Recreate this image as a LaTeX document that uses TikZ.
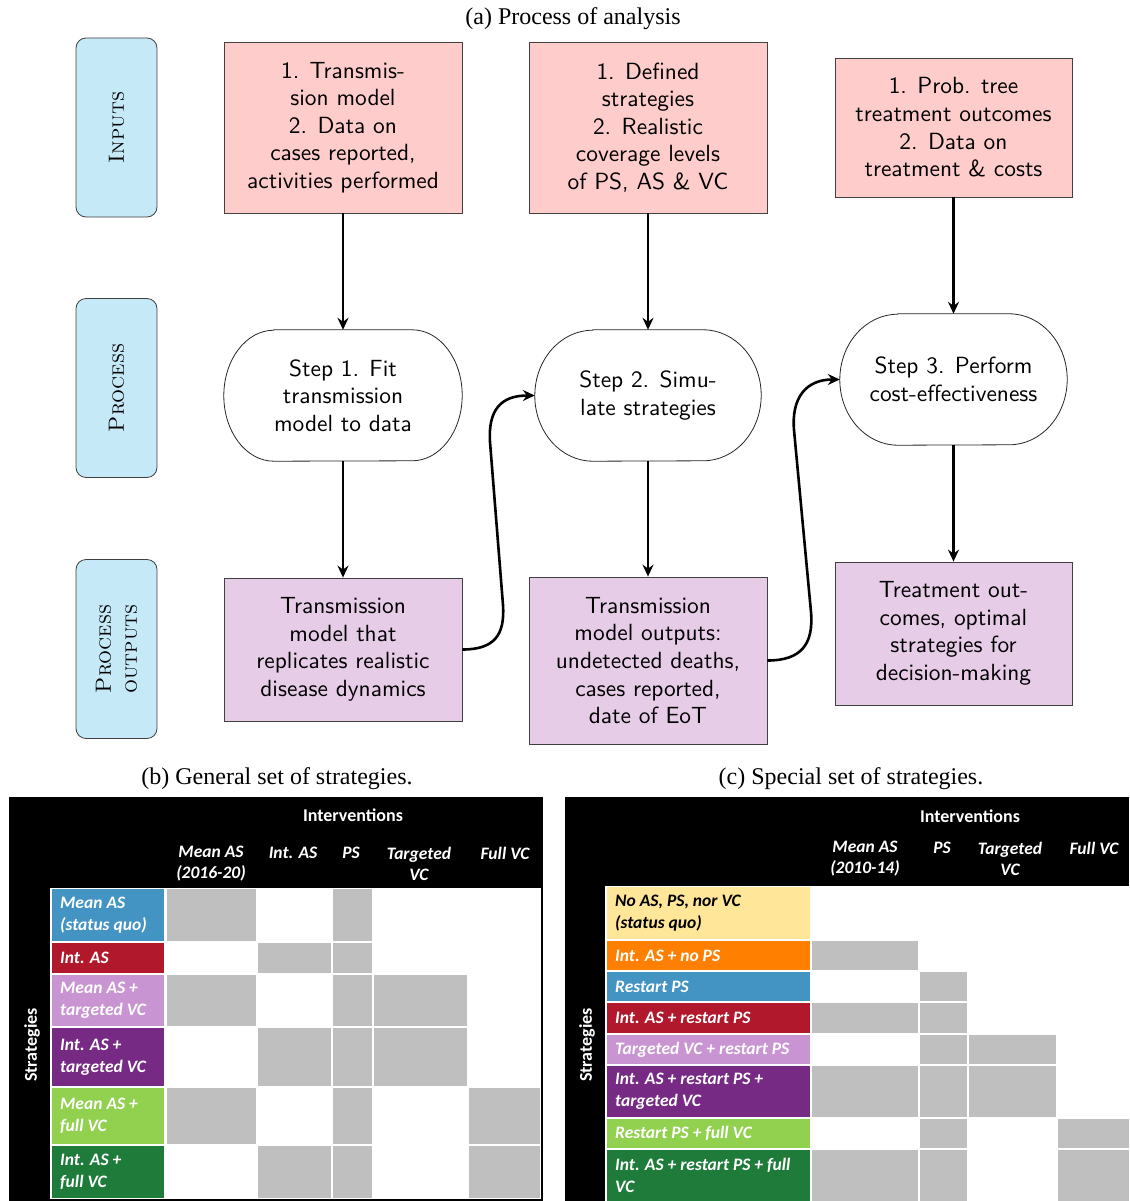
\documentclass[tikz,border=0pt]{standalone}
\usepackage{fontspec}
\newfontfamily\capfont{Liberation Serif}
\newfontfamily\tabfont{Carlito}
\newfontfamily\msf{lmsans10-regular.otf}
\usetikzlibrary{arrows.meta}
\definecolor{lblue}{HTML}{C6E9F8}
\definecolor{pinkbox}{HTML}{FFCCCC}
\definecolor{lilac}{HTML}{E6CCE6}
\definecolor{sblue}{HTML}{4393C3}
\definecolor{sred}{HTML}{B2182B}
\definecolor{slpurple}{HTML}{C994D2}
\definecolor{spurple}{HTML}{762A83}
\definecolor{slgreen}{HTML}{92D050}
\definecolor{sdgreen}{HTML}{1E7B3A}
\definecolor{syellow}{HTML}{FFE699}
\definecolor{sorange}{HTML}{FF7F00}
\definecolor{gcellc}{HTML}{BFBFBF}
\tikzset{
 mainfont/.style={font=\msf\fontsize{23.4}{27.6}\selectfont},
 inbox/.style={draw=black!75, line width=0.8pt, fill=pinkbox, align=center, inner sep=0pt, minimum width=238pt, mainfont},
 outbox/.style={inbox, fill=lilac},
 procnode/.style={rectangle, align=center, inner sep=0pt, minimum height=131pt, mainfont},
 stadium/.style={draw=black!85, line width=0.8pt, fill=white},
 lane/.style={draw=black!75, line width=0.8pt, fill=lblue, rounded corners=10pt, minimum width=81pt, minimum height=179pt, inner sep=0pt},
 lanetext/.style={rotate=90, font=\fontsize{22}{26}\selectfont\scshape, align=center, inner sep=0pt},
 arr/.style={-{Stealth[length=12pt,width=11pt,inset=4pt]}, line width=2.6pt},
 captext/.style={font=\capfont\fontsize{24}{28}\selectfont, inner sep=0pt},
 tabhead/.style={font=\tabfont\bfseries\itshape\fontsize{17.5}{21}\selectfont, text=white, align=center, inner sep=0pt},
 tabtitle/.style={font=\tabfont\bfseries\fontsize{18}{21}\selectfont, text=white, inner sep=0pt},
 rowtext/.style={font=\tabfont\bfseries\itshape\fontsize{17.5}{22}\selectfont, text=white, align=left, anchor=west, inner sep=0pt},
 gcell/.style={fill=gcellc},
}
\newcommand\cellbox[5]{\fill[#1] (#2,-#4) rectangle (#3,-#5);}
% stadium outline: #1 node name, #2 x radius of the ends
\newcommand\stadiumof[2]{%
 \path[stadium] ([xshift=#2pt]#1.north west) -- ([xshift=-#2pt]#1.north east)
   arc[start angle=90, end angle=-90, x radius=#2pt, y radius=65.5pt]
   -- ([xshift=#2pt]#1.south west)
   arc[start angle=270, end angle=90, x radius=#2pt, y radius=65.5pt] -- cycle;}
\begin{document}
\begin{tikzpicture}[x=1pt,y=1pt]
\path[use as bounding box] (0,0) rectangle (1129,-1201);

% ---------- (a) ----------
\node[captext] (capa) at (573,-19) {(a) Process of analysis};

\node[lane] (L1) at (116.5,-127.5) {};
\node[lanetext] (L1t) at (L1.center) {Inputs};
\node[lane] (L2) at (116.5,-388) {};
\node[lanetext] (L2t) at (L2.center) {Process};
\node[lane] (L3) at (116.5,-649) {};
\node[lanetext] (L3t) at (L3.center) {Process\\outputs};

\node[inbox, minimum height=171pt] (in1) at (343,-127.5) {1. Transmis-\\sion model\\2. Data on\\cases reported,\\activities performed};
\node[inbox, minimum height=171pt] (in2) at (648,-127.5) {1. Defined\\strategies\\2. Realistic\\coverage levels\\of PS, AS \& VC};
\node[inbox, minimum width=237pt, minimum height=139pt] (in3) at (953.5,-127.5) {1. Prob. tree\\treatment outcomes\\2. Data on\\treatment \& costs};

\node[procnode, minimum width=238pt] (p1) at (343,-395.5) {};
\node[procnode, minimum width=226pt] (p2) at (648,-395.5) {};
\node[procnode, minimum width=227pt] (p3) at (953.5,-379.5) {};
\stadiumof{p1}{50}
\stadiumof{p2}{58}
\stadiumof{p3}{58}
\node[procnode] (p1t) at (p1.center) {Step 1. Fit\\transmission\\model to data};
\node[procnode] (p2t) at (p2.center) {Step 2. Simu-\\late strategies};
\node[procnode] (p3t) at (p3.center) {Step 3. Perform\\cost-effectiveness};

\node[outbox, minimum height=143pt] (o1) at (343,-649.5) {Transmission\\model that\\replicates realistic\\disease dynamics};
\node[outbox, minimum height=167pt] (o2) at (648,-660.5) {Transmission\\model outputs:\\undetected deaths,\\cases reported,\\date of EoT};
\node[outbox, minimum width=237pt, minimum height=143pt] (o3) at (953.5,-633.5) {Treatment out-\\comes, optimal\\strategies for\\decision-making};

\draw[arr] (in1.south) -- (p1.north);
\draw[arr] (in2.south) -- (p2.north);
\draw[arr] (in3.south) -- (p3.north);
\draw[arr] (p1.south) -- (o1.north);
\draw[arr] (p2.south) -- (o2.north);
\draw[arr] (p3.south) -- (o3.north);

\coordinate (ca1) at (503,-605);
\coordinate (cb1) at (490,-442);
\draw[arr] (o1.east) .. controls +(32,0) and +(2,-30) .. (ca1) -- (cb1) .. controls +(-2,32) and +(-34,0) .. (p2.west);
\coordinate (ca2) at (811,-612);
\coordinate (cb2) at (794,-430);
\draw[arr] (o2.east) .. controls +(34,0) and +(2.7,-32) .. (ca2) -- (cb2) .. controls +(-2.7,32) and +(-34,0) .. (p3.west);

% ---------- (b) ----------
\node[captext] (capb) at (277,-779) {(b) General set of strategies.};
\fill[black] (9,-797) rectangle (543,-1201);
\fill[white] (50,-888) rectangle (541,-1199);
\node[tabtitle] (bint) at (353,-815) {Interventions};
\node[tabhead] (bh1) at (211,-864) {Mean AS\\(2016-20)};
\node[tabhead] (bh2) at (293,-853) {Int. AS};
\node[tabhead] (bh3) at (351,-853) {PS};
\node[tabhead] (bh4) at (419,-864) {Targeted\\VC};
\node[tabhead] (bh5) at (505,-853) {Full VC};
\node[tabtitle, rotate=90] (bstr) at (32,-1045) {Strategies};

\cellbox{sblue}{52}{164}{889}{941}
\cellbox{sred}{52}{164}{943}{973}
\cellbox{slpurple}{52}{164}{975}{1026}
\cellbox{spurple}{52}{164}{1028}{1086}
\cellbox{slgreen}{52}{164}{1088}{1144}
\cellbox{sdgreen}{52}{164}{1146}{1198}
% row 1
\cellbox{gcell}{167}{256}{889}{941}
\cellbox{gcell}{333}{372}{889}{941}
% row 2
\cellbox{gcell}{258}{331}{943}{973}
\cellbox{gcell}{333}{372}{943}{973}
% row 3
\cellbox{gcell}{167}{256}{975}{1026}
\cellbox{gcell}{333}{372}{975}{1026}
\cellbox{gcell}{374}{467}{975}{1026}
% row 4
\cellbox{gcell}{258}{331}{1028}{1086}
\cellbox{gcell}{333}{372}{1028}{1086}
\cellbox{gcell}{374}{467}{1028}{1086}
% row 5
\cellbox{gcell}{167}{256}{1088}{1144}
\cellbox{gcell}{333}{372}{1088}{1144}
\cellbox{gcell}{469}{540}{1088}{1144}
% row 6
\cellbox{gcell}{258}{331}{1146}{1198}
\cellbox{gcell}{333}{372}{1146}{1198}
\cellbox{gcell}{469}{540}{1146}{1198}

\node[rowtext] (b1) at (60,-915) {Mean AS\\(status quo)};
\node[rowtext] (b2) at (60,-958) {Int. AS};
\node[rowtext] (b3) at (60,-1000.5) {Mean AS +\\targeted VC};
\node[rowtext] (b4) at (60,-1057) {Int. AS +\\targeted VC};
\node[rowtext] (b5) at (60,-1116) {Mean AS +\\full VC};
\node[rowtext] (b6) at (60,-1172) {Int. AS +\\full VC};

% ---------- (c) ----------
\node[captext] (capc) at (851,-779) {(c) Special set of strategies.};
\fill[black] (565,-797) rectangle (1129,-1201);
\fill[white] (605,-886) rectangle (1129,-1201);
\node[tabtitle] (cint) at (970,-816) {Interventions};
\node[tabhead] (ch1) at (865,-859) {Mean AS\\(2010-14)};
\node[tabhead] (ch2) at (942,-848) {PS};
\node[tabhead] (ch3) at (1010,-859) {Targeted\\VC};
\node[tabhead] (ch4) at (1094,-848) {Full VC};
\node[tabtitle, rotate=90] (cstr) at (587,-1045) {Strategies};

\cellbox{syellow}{607}{810}{887}{939}
\cellbox{sorange}{607}{810}{941}{970}
\cellbox{sblue}{607}{810}{972}{1001}
\cellbox{sred}{607}{810}{1003}{1033}
\cellbox{slpurple}{607}{810}{1035}{1064}
\cellbox{spurple}{607}{810}{1066}{1117}
\cellbox{slgreen}{607}{810}{1119}{1148}
\cellbox{sdgreen}{607}{810}{1150}{1201}
% row 2
\cellbox{gcell}{812}{918}{941}{970}
% row 3
\cellbox{gcell}{920}{967}{972}{1001}
% row 4
\cellbox{gcell}{812}{918}{1003}{1033}
\cellbox{gcell}{920}{967}{1003}{1033}
% row 5
\cellbox{gcell}{920}{967}{1035}{1064}
\cellbox{gcell}{969}{1056}{1035}{1064}
% row 6
\cellbox{gcell}{812}{918}{1066}{1117}
\cellbox{gcell}{920}{967}{1066}{1117}
\cellbox{gcell}{969}{1056}{1066}{1117}
% row 7
\cellbox{gcell}{920}{967}{1119}{1148}
\cellbox{gcell}{1058}{1129}{1119}{1148}
% row 8
\cellbox{gcell}{812}{918}{1150}{1201}
\cellbox{gcell}{920}{967}{1150}{1201}
\cellbox{gcell}{1058}{1129}{1150}{1201}

\node[rowtext, text=black] (c1) at (615,-913) {No AS, PS, nor VC\\(status quo)};
\node[rowtext] (c2) at (615,-955.5) {Int. AS + no PS};
\node[rowtext] (c3) at (615,-986.5) {Restart PS};
\node[rowtext] (c4) at (615,-1018) {Int. AS + restart PS};
\node[rowtext] (c5) at (615,-1049.5) {Targeted VC + restart PS};
\node[rowtext] (c6) at (615,-1091.5) {Int. AS + restart PS +\\targeted VC};
\node[rowtext] (c7) at (615,-1133.5) {Restart PS + full VC};
\node[rowtext] (c8) at (615,-1175.5) {Int. AS + restart PS + full\\VC};
\end{tikzpicture}
\end{document}
